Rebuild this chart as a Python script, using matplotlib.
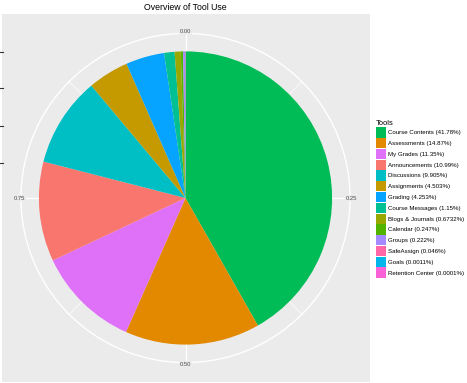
import numpy as np
import matplotlib
matplotlib.use("Agg")
import matplotlib.pyplot as plt
from matplotlib.patches import Patch, Circle
from matplotlib.lines import Line2D

plt.rcParams["font.family"] = ["Liberation Sans", "DejaVu Sans"]

tools = ["Course Contents", "Assessments", "My Grades", "Announcements", "Discussions",
         "Assignments", "Grading", "Course Messages", "Blogs & Journals", "Calendar",
         "Groups", "SafeAssign", "Goals", "Retention Center"]
shares = [41.78, 14.87, 11.35, 10.99, 9.905, 4.503, 4.253, 1.15, 0.6732, 0.247,
          0.222, 0.046, 0.0011, 0.0001]
share_labels = ["41.78%", "14.87%", "11.35%", "10.99%", "9.905%", "4.503%", "4.253%",
                "1.15%", "0.6732%", "0.247%", "0.222%", "0.046%", "0.0011%", "0.0001%"]
colors = ["#00BC56", "#E38900", "#DF70F8", "#F8766D", "#00BFC4", "#C49A00", "#06A4FF",
          "#00C094", "#99A800", "#53B400", "#A58AFF", "#FF66A8", "#00B6EB", "#FB61D7"]
theta_ticks = [0.0, 0.25, 0.5, 0.75]
theta_labels = ["0.00", "0.25", "0.50", "0.75"]
theta_minor = [0.125, 0.375, 0.625, 0.875]

W, H = 467, 383
fig = plt.figure(figsize=(W / 100, H / 100), dpi=100)
fig.patch.set_facecolor("white")

# panel in pixels: x 1..370, y 14..382 (from top)
ax = fig.add_axes([1 / W, 1 / H, 369 / W, 368 / H])
ax.set_facecolor("#EBEBEB")

R = 1.0
R_out = 165 / 147
half = 184.5 / 147

def pt(frac, r):
    ang = np.pi / 2 - 2 * np.pi * frac
    return r * np.cos(ang), r * np.sin(ang)

# grid lines
for f in theta_minor:
    x, y = pt(f, R_out)
    ax.plot([0, x], [0, y], color="white", lw=0.5, zorder=1)
for f in theta_ticks:
    x, y = pt(f, R_out)
    ax.plot([0, x], [0, y], color="white", lw=1.0, zorder=1)
ax.add_patch(Circle((0, 0), R_out, fill=False, ec="white", lw=1.0, zorder=1))

ax.pie(shares, colors=colors, startangle=90, counterclock=False, radius=R,
       center=(0, 0), wedgeprops=dict(linewidth=0), frame=True)
ax.set_aspect("equal")
ax.set_xlim(-half, half)
ax.set_ylim(-half, half)
ax.set_xticks([])
ax.set_yticks([])
for s in ax.spines.values():
    s.set_visible(False)

for f, lab in zip(theta_ticks, theta_labels):
    x, y = pt(f, R_out + 0.01)
    ax.text(x, y, lab, ha="center", va="center", fontsize=4.2, color="#4D4D4D", zorder=5,
            bbox=dict(boxstyle="square,pad=0.1", fc="#EBEBEB", ec="none"))

# truncated y-axis ticks at left edge
for yp in [52, 88, 126, 163]:
    fig.add_artist(Line2D([0 / W, 2.5 / W], [1 - yp / H, 1 - yp / H],
                          color="#333333", lw=0.8, transform=fig.transFigure))

fig.text(185 / W, 1 - 8 / H, "Overview of Tool Use", ha="center", va="center",
         fontsize=6.3, color="black")

handles = [Patch(facecolor=c, edgecolor="none") for c in colors]
labels = [f"{t} ({p})" for t, p in zip(tools, share_labels)]
leg = fig.legend(handles, labels, title="Tools", loc="upper left",
                 bbox_to_anchor=(375 / W, 1 - 118.5 / H), frameon=False,
                 fontsize=4.4, title_fontsize=5.4, handlelength=1.65, handleheight=2.2,
                 labelspacing=0.09, handletextpad=0.35, borderaxespad=0, borderpad=0.2)
leg._legend_box.align = "left"

fig.savefig("out.png", dpi=100)
